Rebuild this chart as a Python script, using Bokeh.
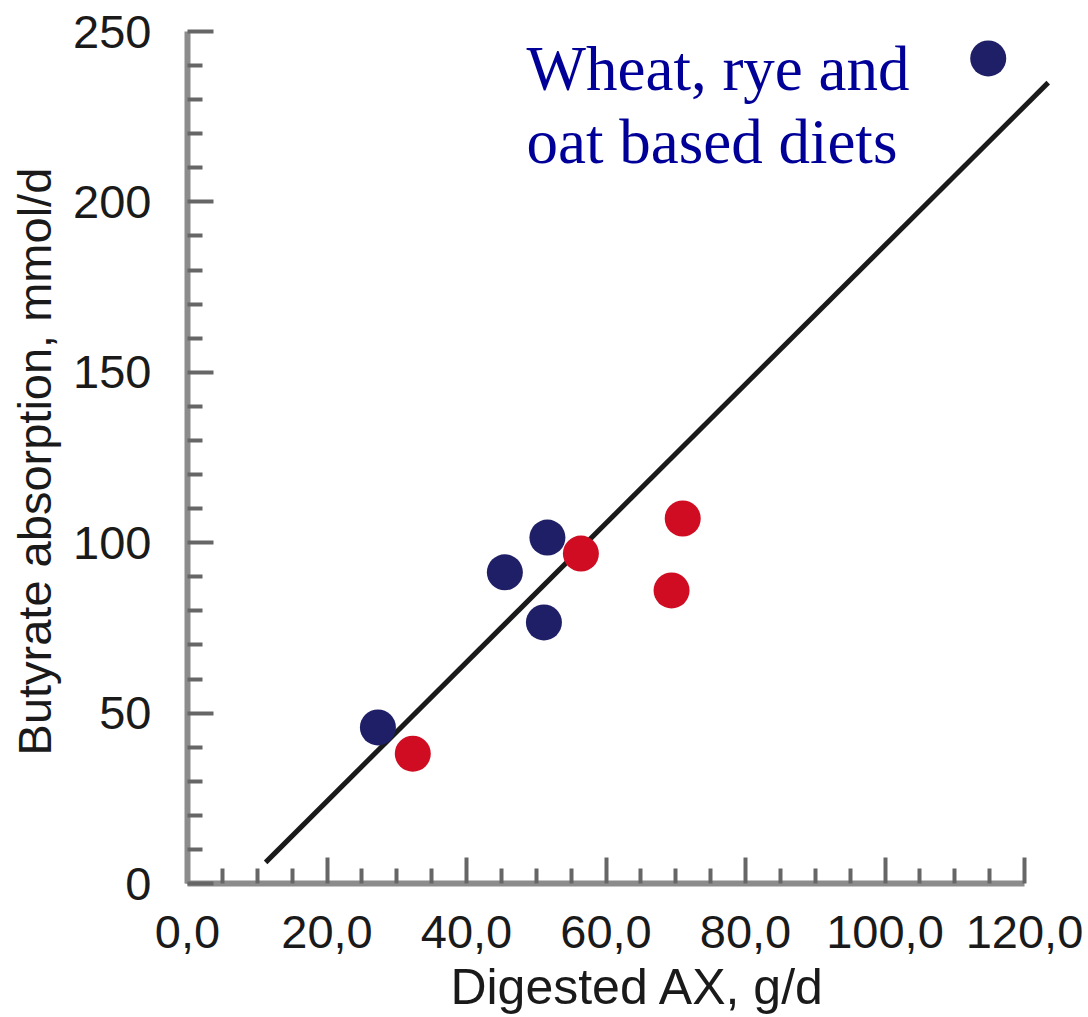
import math
from bokeh.plotting import figure
from bokeh.models import Range1d, FixedTicker, Label
from bokeh.embed import file_html
from bokeh.resources import INLINE

# --- data ---
blue_x = [114.8, 51.6, 45.5, 51.1, 27.3]
blue_y = [242.1, 101.5, 91.3, 76.6, 45.8]
red_x = [32.3, 56.4, 71.0, 69.4]
red_y = [38.1, 96.8, 107.1, 86.0]
fit_x = [11.2, 123.4]
fit_y = [6.2, 235.0]
x_ticks = [0, 20, 40, 60, 80, 100, 120]
x_tick_labels = ["0,0", "20,0", "40,0", "60,0", "80,0", "100,0", "120,0"]
x_minor = [v for v in range(5, 120, 5) if v % 20 != 0]
y_ticks = [0, 50, 100, 150, 200, 250]
y_tick_labels = ["0", "50", "100", "150", "200", "250"]
y_minor = [v for v in range(10, 250, 10) if v % 50 != 0]
annotation_lines = ["Wheat, rye and", "oat based diets"]
x_title = "Digested AX, g/d"
y_title = "Butyrate absorption, mmol/d"

W, H = 1088, 1017
left, bottom = 187, 134
frame_w, frame_h = W - left, H - bottom
px_x = 6.975
px_y = 3.408

p = figure(width=W, height=H, output_backend="svg", toolbar_location=None,
           x_range=Range1d(0, frame_w / px_x), y_range=Range1d(0, frame_h / px_y),
           min_border_left=left, min_border_right=0, min_border_top=0,
           min_border_bottom=bottom)
p.outline_line_color = None
p.xgrid.visible = False
p.ygrid.visible = False
p.background_fill_color = "white"
p.border_fill_color = "white"

FONT = "Liberation Sans"
for ax, ticks, minor, labels in ((p.xaxis[0], x_ticks, x_minor, x_tick_labels),
                                 (p.yaxis[0], y_ticks, y_minor, y_tick_labels)):
    ax.ticker = FixedTicker(ticks=ticks, minor_ticks=minor)
    ax.major_label_overrides = {t: l for t, l in zip(ticks, labels)}
    ax.axis_line_color = "#8c8c8c"
    ax.axis_line_width = 6
    ax.major_tick_line_color = "#666666"
    ax.major_tick_line_width = 4
    ax.minor_tick_line_color = "#666666"
    ax.minor_tick_line_width = 4
    ax.major_tick_out = 0
    ax.minor_tick_out = 0
    ax.major_tick_in = 26
    ax.minor_tick_in = 15
    ax.major_label_text_font = FONT
    ax.major_label_text_font_size = "47px"
    ax.major_label_text_color = "#1a1a1a"
    ax.axis_label_text_font = FONT
    ax.axis_label_text_font_style = "normal"
    ax.axis_label_text_color = "#1a1a1a"

p.xaxis[0].bounds = (0, 120)
p.yaxis[0].bounds = (0, 250)
p.xaxis[0].major_label_standoff = 32
p.yaxis[0].major_label_standoff = 36
# trailing no-break spaces nudge the rotated title down to match the reference
p.xaxis[0].axis_label = x_title
p.yaxis[0].axis_label = y_title + "\u00a0\u00a0\u00a0"
p.xaxis[0].axis_label_text_font_size = "50px"
p.yaxis[0].axis_label_text_font_size = "47px"
p.xaxis[0].axis_label_standoff = 8
p.yaxis[0].axis_label_standoff = 9

p.line(fit_x, fit_y, line_color="#1a1a1a", line_width=5)
p.scatter(blue_x, blue_y, size=36, fill_color="#1f1f68", line_color=None)
p.scatter(red_x, red_y, size=36, fill_color="#d00c22", line_color=None)

def dx(px):
    return (px - left) / px_x

def dy(py):
    return (frame_h - py) / px_y

p.add_layout(Label(x=dx(526), y=dy(68), text=annotation_lines[0],
                   text_font="Liberation Serif", text_font_size="63px",
                   text_color="#000099", text_baseline="alphabetic"))
p.add_layout(Label(x=dx(526), y=dy(141), text=annotation_lines[1],
                   text_font="Liberation Serif", text_font_size="63px",
                   text_color="#000099", text_baseline="alphabetic"))

open("out.html", "w").write(file_html(p, INLINE))
